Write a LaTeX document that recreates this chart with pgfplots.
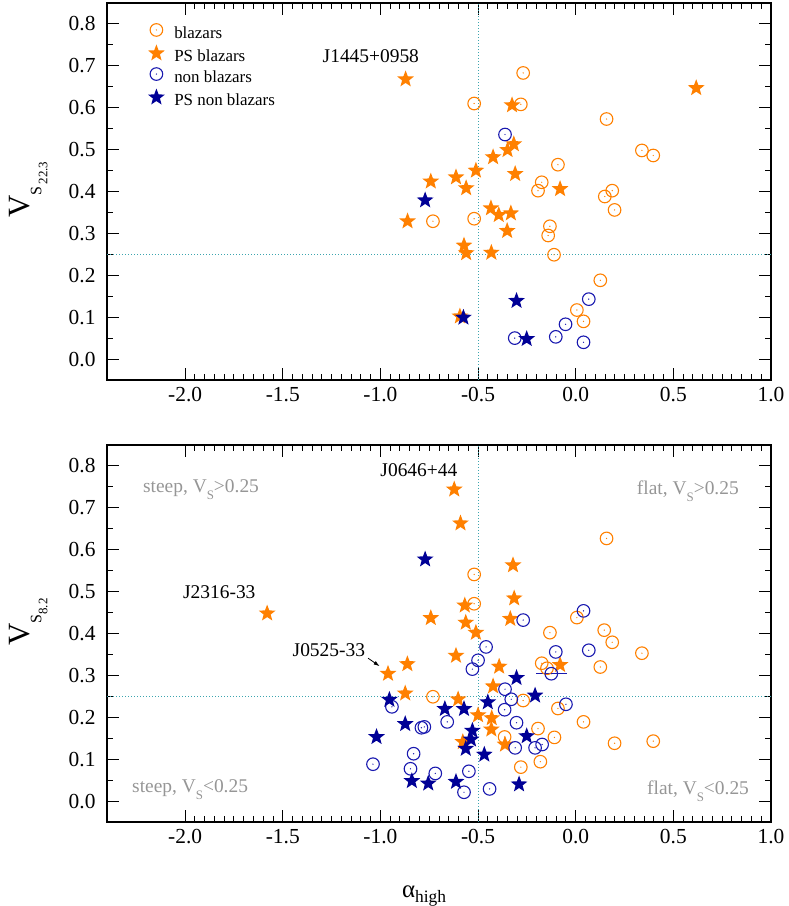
\documentclass[border=0pt]{standalone}
\usepackage{fontspec}
\setmainfont{Liberation Serif}
\usepackage{pgfplots}
\pgfplotsset{compat=1.18}
\usetikzlibrary{arrows.meta}
\definecolor{orangec}{RGB}{255,128,0}
\definecolor{navyc}{RGB}{0,0,150}
\definecolor{bluec}{RGB}{25,25,175}
\definecolor{dotc}{RGB}{60,165,175}
\definecolor{grayc}{RGB}{150,150,150}

\pgfdeclareplotmark{dotcirc}{%
  \pgfpathcircle{\pgfpointorigin}{\pgfplotmarksize}%
  \pgfusepathqstroke
  \pgfpathcircle{\pgfpointorigin}{0.7bp}%
  \pgfusepathqfill
}
\pgfdeclareplotmark{fstar}{%
  \pgfpathmoveto{\pgfpointpolar{90}{\pgfplotmarksize}}%
  \pgfpathlineto{\pgfpointpolar{126}{0.42*\pgfplotmarksize}}%
  \pgfpathlineto{\pgfpointpolar{162}{\pgfplotmarksize}}%
  \pgfpathlineto{\pgfpointpolar{198}{0.42*\pgfplotmarksize}}%
  \pgfpathlineto{\pgfpointpolar{234}{\pgfplotmarksize}}%
  \pgfpathlineto{\pgfpointpolar{270}{0.42*\pgfplotmarksize}}%
  \pgfpathlineto{\pgfpointpolar{306}{\pgfplotmarksize}}%
  \pgfpathlineto{\pgfpointpolar{342}{0.42*\pgfplotmarksize}}%
  \pgfpathlineto{\pgfpointpolar{18}{\pgfplotmarksize}}%
  \pgfpathlineto{\pgfpointpolar{54}{0.42*\pgfplotmarksize}}%
  \pgfpathclose
  \pgfusepathqfill
}

\tikzset{
  refline/.style={dotc, line width=1bp, dash pattern=on 1.2bp off 1.8bp},
  qlab/.style={grayc, font=\fontsize{19.5}{19.5}\selectfont, inner sep=0pt},
  jlab/.style={black, font=\fontsize{19.5}{19.5}\selectfont, inner sep=0pt},
}

\pgfplotsset{
  myaxis/.style={
    scale only axis, width=664bp, height=377bp,
    xmin=-2.4, xmax=1.0, ymin=-0.05, ymax=0.85,
    xtick={-2,-1.5,-1,-0.5,0,0.5,1}, minor x tick num=9,
    ytick={0,0.1,0.2,0.3,0.4,0.5,0.6,0.7,0.8}, minor y tick num=1,
    tick align=inside,
    major tick length=12bp, minor tick length=6bp,
    axis line style={line width=1.2bp},
    every tick/.style={black, line width=0.9bp},
    tick label style={font=\fontsize{21.5}{21.5}\selectfont},
    xticklabel style={yshift=-4bp},
    yticklabel style={xshift=-8bp},
    xticklabel={\pgfmathprintnumber[fixed,fixed zerofill,precision=1,assume math mode=true]{\tick}},
    yticklabel={\pgfmathprintnumber[fixed,fixed zerofill,precision=1,assume math mode=true]{\tick}},
    clip=false,
  },
  ocirc/.style={only marks, color=orangec, mark=dotcirc, mark size=6.3bp, mark options={line width=1.1bp}},
  ostar/.style={only marks, color=orangec, mark=fstar, mark size=8.8bp},
  bcirc/.style={only marks, color=bluec, mark=dotcirc, mark size=6.3bp, mark options={line width=1.1bp}},
  bstar/.style={only marks, color=navyc, mark=fstar, mark size=8.8bp},
}

\newcommand{\subS}{\raisebox{-7bp}{\fontsize{13}{13}\selectfont S}}

\begin{document}
\begin{tikzpicture}
\useasboundingbox (0,0) rectangle (789bp,906bp);

% ---------------- top panel ----------------
\begin{axis}[myaxis, at={(107bp,526bp)}, anchor=south west,
  ylabel={{\fontsize{31}{31}\selectfont V}\raisebox{-12bp}{\fontsize{16}{16}\selectfont S}\hspace{2bp}\raisebox{-18bp}{\fontsize{13}{13}\selectfont 22.3}},
  every axis y label/.style={at={(axis description cs:-0.1170,0.505)}, rotate=90, anchor=base},
  legend style={at={(rel axis cs:0.057,0.951)}, anchor=north west, draw=none, fill=none,
    font=\fontsize{17}{17}\selectfont, row sep=0bp, column sep=7.5bp,
    nodes={inner sep=2bp, text height=12bp, text depth=4bp}},
  legend cell align=left,
  legend image code/.code={\draw[#1] plot coordinates {(0bp,4.5bp)};},
]
\draw[refline] (axis cs:-0.5,-0.05) -- (axis cs:-0.5,0.85);
\draw[refline] (axis cs:-2.4,0.25) -- (axis cs:1.0,0.25);

\addplot[ocirc] coordinates {
(-0.269,0.683) (-0.520,0.610) (-0.281,0.608) (0.158,0.573) (0.339,0.498)
(0.397,0.486) (-0.091,0.464) (-0.174,0.422) (-0.193,0.402) (0.187,0.402)
(0.149,0.388) (0.199,0.356) (-0.731,0.329) (-0.520,0.335) (-0.132,0.317)
(-0.141,0.295) (-0.111,0.249) (0.126,0.188) (0.006,0.117) (0.040,0.090)
};
\addlegendentry{blazars}
\addplot[ostar] coordinates {
(-0.871,0.668) (0.617,0.647) (-0.326,0.606) (-0.317,0.513) (-0.349,0.499)
(-0.423,0.482) (-0.511,0.450) (-0.310,0.442) (-0.742,0.424) (-0.613,0.434)
(-0.561,0.408) (-0.080,0.406) (-0.861,0.329) (-0.434,0.360) (-0.394,0.344)
(-0.332,0.348) (-0.351,0.306) (-0.572,0.271) (-0.561,0.253) (-0.432,0.254)
(-0.593,0.102)
};
\addlegendentry{PS blazars}
\addplot[bcirc] coordinates {
(-0.362,0.536) (0.067,0.143) (-0.052,0.083) (-0.312,0.050) (-0.102,0.053)
(0.040,0.040)
};
\addlegendentry{non blazars}
\addplot[bstar] coordinates {
(-0.771,0.379) (-0.303,0.139) (-0.575,0.099) (-0.251,0.048)
};
\addlegendentry{PS non blazars}

\node[jlab, anchor=center] at (axis cs:-1.049,0.724) {J1445+0958};
\end{axis}

% ---------------- bottom panel ----------------
\begin{axis}[myaxis, at={(107bp,84bp)}, anchor=south west,
  ylabel={{\fontsize{31}{31}\selectfont V}\raisebox{-12bp}{\fontsize{16}{16}\selectfont S}\raisebox{-18bp}{\fontsize{13}{13}\selectfont 8.2}},
  every axis y label/.style={at={(axis description cs:-0.1170,0.530)}, rotate=90, anchor=base},
  xlabel={{\fontsize{25}{25}\selectfont α}\raisebox{-5bp}{\fontsize{17.5}{17.5}\selectfont high}},
  every axis x label/.style={at={(axis description cs:0.444,-0.201)}, anchor=base west, inner sep=0pt},
]
\draw[refline] (axis cs:-0.5,-0.05) -- (axis cs:-0.5,0.85);
\draw[refline] (axis cs:-2.4,0.25) -- (axis cs:1.0,0.25);

\addplot[ocirc] coordinates {
(0.158,0.627) (-0.520,0.541) (-0.520,0.471) (0.006,0.438) (-0.132,0.402)
(0.146,0.408) (0.187,0.379) (0.339,0.353) (-0.174,0.329) (-0.147,0.317)
(0.126,0.320) (-0.731,0.249) (-0.269,0.240) (-0.091,0.221) (0.040,0.189)
(-0.193,0.173) (-0.109,0.152) (-0.364,0.153) (0.199,0.138) (0.397,0.143)
(-0.181,0.094) (-0.281,0.081)
};
\addplot[ostar] coordinates {
(-0.622,0.744) (-0.590,0.663) (-0.321,0.563) (-0.315,0.484) (-1.580,0.448)
(-0.568,0.467) (-0.742,0.437) (-0.563,0.426) (-0.335,0.435) (-0.511,0.402)
(-0.613,0.347) (-0.862,0.327) (-0.961,0.304) (-0.392,0.321) (-0.080,0.325)
(-0.423,0.274) (-0.873,0.257) (-0.602,0.243) (-0.500,0.205) (-0.430,0.198)
(-0.432,0.171) (-0.578,0.141) (-0.362,0.135)
};
\addplot[bcirc] coordinates {
(0.040,0.454) (-0.269,0.432) (-0.459,0.368) (-0.500,0.336) (-0.529,0.315)
(-0.102,0.356) (0.067,0.360) (-0.362,0.267) (-0.330,0.243)
(-0.364,0.218) (-0.050,0.231) (-0.941,0.225) (-0.658,0.189) (-0.790,0.175)
(-0.775,0.177) (-0.303,0.187) (-0.310,0.127) (-0.208,0.127) (-0.172,0.135)
(-0.830,0.113) (-1.038,0.088) (-0.846,0.077) (-0.719,0.066) (-0.547,0.071)
(-0.572,0.021) (-0.441,0.029)
};
\addplot[bcirc, error bars/.cd, x dir=both, x explicit, error mark=none,
  error bar style={line width=1.1bp, draw=bluec}] coordinates {
(-0.125,0.304) +- (0.08,0)
};
\addplot[bstar] coordinates {
(-0.771,0.577) (-0.303,0.294) (-0.208,0.252) (-0.954,0.242) (-0.450,0.236)
(-0.670,0.220) (-0.572,0.220) (-0.873,0.184) (-1.020,0.153) (-0.529,0.168)
(-0.536,0.147) (-0.251,0.155) (-0.563,0.125) (-0.468,0.111) (-0.839,0.048)
(-0.755,0.042) (-0.613,0.046) (-0.290,0.040)
};

\node[jlab, anchor=center] at (axis cs:-0.803,0.790) {J0646+44};
\node[jlab, anchor=center] at (axis cs:-1.825,0.498) {J2316-33};
\node[jlab, anchor=center] at (axis cs:-1.264,0.361) {J0525-33};
\draw[-{Latex[length=6bp,width=4bp]}, line width=0.8bp] (axis cs:-1.063,0.341) -- (axis cs:-1.004,0.322);

\node[qlab, anchor=base west] at (axis cs:-2.216,0.737) {steep, V\subS>0.25};
\node[qlab, anchor=base east] at (axis cs:0.836,0.733) {flat, V\subS>0.25};
\node[qlab, anchor=base west] at (axis cs:-2.272,0.020) {steep, V\subS<0.25};
\node[qlab, anchor=base east] at (axis cs:0.888,0.016) {flat, V\subS<0.25};
\end{axis}
\end{tikzpicture}
\end{document}
